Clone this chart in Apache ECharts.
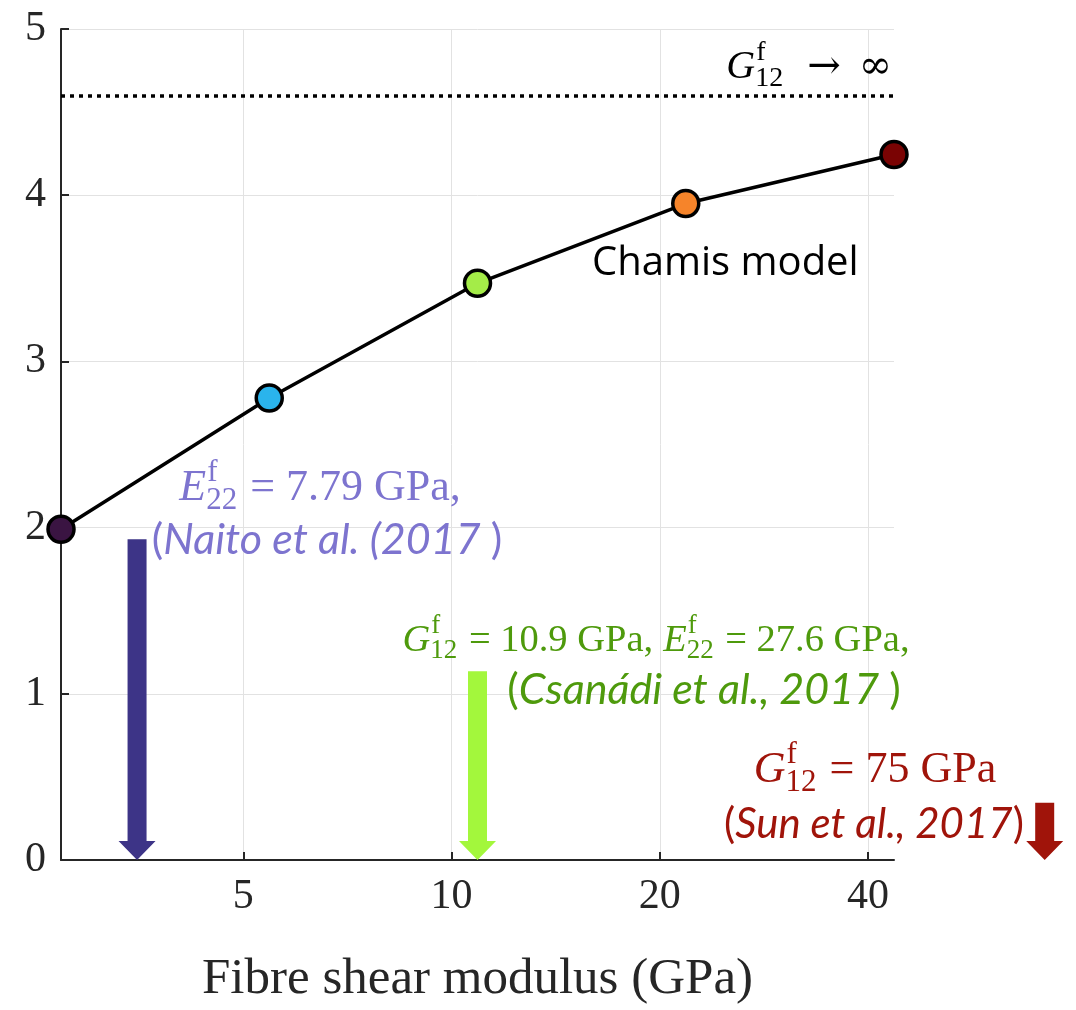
<!DOCTYPE html>
<html>
<head>
<meta charset="utf-8">
<script src="https://cdn.jsdelivr.net/npm/echarts@6/dist/echarts.min.js"></script>
<style>
  html, body { margin: 0; padding: 0; background: #fff; }
  #chart { width: 1076px; height: 1010px; }
</style>
</head>
<body>
<div id="chart"></div>
<script>
// Chamis model points (fibre shear modulus in GPa, value)
const shearModulus = [2.725, 5.45, 10.9, 21.8, 43.6];
const chamisValue = [1.99, 2.78, 3.47, 3.95, 4.245];
const pointColors = ['#3a1442', '#2ab4ec', '#a4ec48', '#f6842a', '#7a0303'];
// limit for G12 -> infinity
const limitValue = 4.6;
// tick labels of the log axis
const xTicks = [5, 10, 20, 40];
// literature arrows: position on the modulus axis and top value
const arrowX = [3.51, 10.9, 72];
const arrowTop = [1.93, 1.135, 0.344];
const arrowColors = ['#3d3487', '#a3f73c', '#a0140a'];

const serif = '"Liberation Serif"';
const sans = 'Lato';

const ctx = document.createElement('canvas').getContext('2d');
function textWidth(str, font) {
  ctx.font = font;
  return ctx.measureText(str).width;
}

// parts: ['i', t] italic, ['r', t] upright, ['s', sup, sub] scripts,
// ['c', t] italic sans, ['p', t] sans, ['d', t] symbol, ['g', px] gap
function mathLine(parts, x, baseline, align, color, size, citeSize) {
  const fonts = {
    i: 'italic ' + size + 'px ' + serif,
    r: size + 'px ' + serif,
    c: 'italic ' + (citeSize || size) + 'px ' + sans,
    p: (citeSize || size) + 'px ' + sans,
    d: size + 'px "DejaVu Serif"',
    s: Math.round(size * 0.7) + 'px ' + serif
  };
  const widths = parts.map(p => p[0] === 'g' ? p[1]
    : p[0] === 's' ? Math.max(textWidth(p[1], fonts.s), textWidth(p[2], fonts.s)) + 2
    : textWidth(p[1], fonts[p[0]]));
  const total = widths.reduce((a, b) => a + b, 0);
  let cx = align === 'right' ? x - total : align === 'center' ? x - total / 2 : x;
  const y0 = baseline - 0.32 * size;
  const out = [];
  function txt(t, px, py, font) {
    out.push({
      type: 'text', silent: true, z: 10,
      style: { text: t, x: px, y: py, font: font, fill: color, align: 'left', verticalAlign: 'middle' }
    });
  }
  parts.forEach((p, i) => {
    if (p[0] === 's') {
      txt(p[1], cx + 1, y0 - 0.374 * size, fonts.s);
      txt(p[2], cx, y0 + 0.276 * size, fonts.s);
    } else if (p[0] !== 'g') {
      txt(p[1], cx, y0, fonts[p[0]]);
    }
    cx += widths[i];
  });
  return out;
}

const notes = [].concat(
  mathLine([['i', 'G'], ['s', 'f', '12'], ['g', 22], ['d', '\u2192'], ['g', 18], ['d', '\u221E']], 892, 80, 'right', '#000', 40),
  mathLine([['i', 'E'], ['s', 'f', '22'], ['r', ' = 7.79 GPa,']], 320, 503, 'center', '#7d74cf', 44),
  mathLine([['p', '('], ['c', 'Naito et al. (2017 '], ['p', ')']], 327, 554, 'center', '#7d74cf', 43),
  mathLine([['i', 'G'], ['s', 'f', '12'], ['r', ' = 10.9 GPa,'], ['g', 10], ['i', 'E'], ['s', 'f', '22'], ['r', ' = 27.6 GPa,']], 656, 653, 'center', '#4e9a0c', 38.5),
  mathLine([['p', '('], ['c', 'Csan\u00e1di et al., 2017 '], ['p', ')']], 704, 704, 'center', '#4e9a0c', 43),
  mathLine([['i', 'G'], ['s', 'f', '12'], ['r', ' = 75 GPa']], 875, 785, 'center', '#a0140a', 44),
  mathLine([['p', '('], ['c', 'Sun et al., 2017'], ['p', ')']], 874, 838, 'center', '#a0140a', 42),
  [{
    type: 'text', silent: true, z: 10,
    style: { text: 'Chamis model', x: 592, y: 264, font: '40px "Open Sans"', fill: '#000', align: 'left', verticalAlign: 'middle' }
  }]
);

const chart = echarts.init(document.getElementById('chart'), null, { renderer: 'canvas' });
const option = {
  animation: false,
  backgroundColor: '#fff',
  grid: { left: 61, right: 182, top: 29, bottom: 149, containLabel: false },
  xAxis: {
    type: 'log',
    logBase: 2,
    min: 2.725,
    max: 43.6,
    name: 'Fibre shear modulus (GPa)',
    nameLocation: 'middle',
    nameGap: 94,
    nameTextStyle: { fontFamily: serif, fontSize: 51, color: '#262626' },
    axisLine: { show: true, lineStyle: { color: '#262626', width: 2 } },
    axisTick: { show: true, inside: true, length: 8, customValues: xTicks, lineStyle: { color: '#262626', width: 2 } },
    axisLabel: { show: true, customValues: xTicks, fontFamily: serif, fontSize: 42, color: '#262626', margin: 16 },
    splitLine: { show: true, lineStyle: { color: '#e2e2e2', width: 1 } },
    minorTick: { show: false },
    minorSplitLine: { show: false }
  },
  yAxis: {
    type: 'value',
    min: 0,
    max: 5,
    interval: 1,
    axisLine: { show: true, lineStyle: { color: '#262626', width: 2 } },
    axisTick: { show: true, inside: true, length: 8, lineStyle: { color: '#262626', width: 2 } },
    axisLabel: { fontFamily: serif, fontSize: 42, color: '#262626', margin: 15 },
    splitLine: { show: true, lineStyle: { color: '#e2e2e2', width: 1 } }
  },
  series: [
    {
      type: 'custom',
      clip: false,
      z: 3,
      data: arrowX.map((x, i) => [x, arrowTop[i]]),
      renderItem: function (params, api) {
        const bottom = api.coord([api.value(0), 0]);
        const top = api.coord([api.value(0), api.value(1)]);
        const cx = bottom[0];
        const s = 9.5, h = 18.5, hh = 19;
        return {
          type: 'polygon',
          shape: {
            points: [
              [cx - s, top[1]], [cx + s, top[1]], [cx + s, bottom[1] - hh], [cx + h, bottom[1] - hh],
              [cx, bottom[1]], [cx - h, bottom[1] - hh], [cx - s, bottom[1] - hh]
            ]
          },
          style: { fill: arrowColors[params.dataIndex] }
        };
      }
    },
    {
      type: 'line',
      clip: false,
      z: 5,
      symbol: 'circle',
      symbolSize: 26,
      lineStyle: { color: '#000', width: 3.5 },
      itemStyle: { borderColor: '#000', borderWidth: 3.5 },
      data: shearModulus.map((x, i) => ({ value: [x, chamisValue[i]], itemStyle: { color: pointColors[i] } })),
      markLine: {
        silent: true,
        symbol: 'none',
        label: { show: false },
        lineStyle: { color: '#000', type: [4, 5], width: 3.5 },
        data: [{ yAxis: limitValue }]
      }
    }
  ],
  graphic: notes
};
chart.setOption(option);
</script>
</body>
</html>
